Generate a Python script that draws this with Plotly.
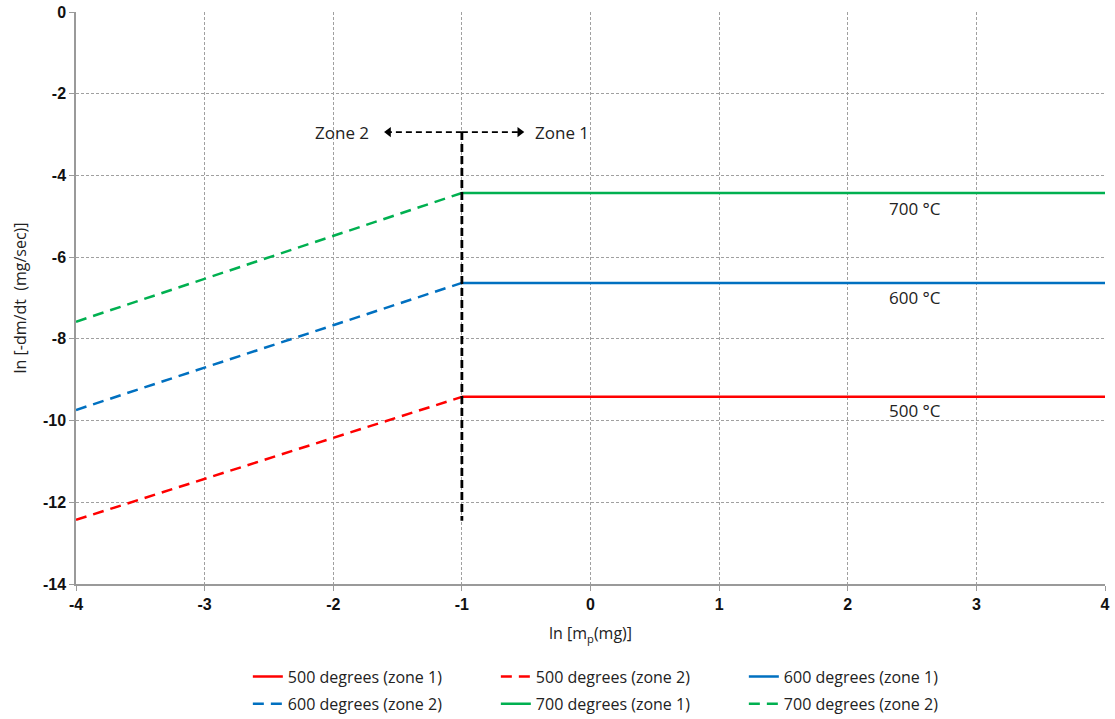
import plotly.graph_objects as go

temps = ["500", "600", "700"]
colors = ["#FF0000", "#0070C0", "#00B050"]
zone1_x = [-1, 4]
zone1_y = [[-9.42, -9.42], [-6.63, -6.63], [-4.43, -4.43]]
zone2_x = [-4, -1]
zone2_y = [[-12.43, -9.42], [-9.74, -6.63], [-7.58, -4.43]]
label_y = [-9.75, -6.98, -4.82]
label_x = 2.52
boundary_x = [-1, -1]
boundary_y = [-2.94, -12.45]
arrow_y = -2.94
arrow_left_x = [-1, -1.57]
arrow_right_x = [-1, -0.55]
x_ticks = [-4, -3, -2, -1, 0, 1, 2, 3, 4]
y_ticks = [0, -2, -4, -6, -8, -10, -12, -14]

fig = go.Figure()
k = 0
for i, t in enumerate(temps):
    for zone in (1, 2):
        lg = "legend" if k < 3 else "legend2"
        if zone == 1:
            fig.add_trace(go.Scatter(x=zone1_x, y=zone1_y[i], mode="lines",
                                     line=dict(color=colors[i], width=2.5),
                                     name=f"{t} degrees (zone 1)", legend=lg))
        else:
            fig.add_trace(go.Scatter(x=zone2_x, y=zone2_y[i], mode="lines",
                                     line=dict(color=colors[i], width=2.5, dash="11px,7px"),
                                     name=f"{t} degrees (zone 2)", legend=lg))
        k += 1

# zone boundary and arrows
fig.add_trace(go.Scatter(x=boundary_x, y=boundary_y, mode="lines",
                         line=dict(color="black", width=2.8, dash="8px,4px"), showlegend=False))
fig.add_trace(go.Scatter(x=arrow_left_x, y=[arrow_y, arrow_y], mode="lines",
                         line=dict(color="black", width=1.8, dash="6px,4px"), showlegend=False))
fig.add_trace(go.Scatter(x=arrow_right_x, y=[arrow_y, arrow_y], mode="lines",
                         line=dict(color="black", width=1.8, dash="6px,4px"), showlegend=False))
fig.add_trace(go.Scatter(x=[arrow_left_x[1], arrow_right_x[1]], y=[arrow_y, arrow_y], mode="markers",
                         marker=dict(symbol=["triangle-left", "triangle-right"], size=9, color="black"),
                         showlegend=False))

tfont = dict(size=17, color="#222", family="Open Sans")
fig.add_annotation(x=-1.93, y=arrow_y, text="Zone 2", showarrow=False, font=tfont)
fig.add_annotation(x=-0.22, y=arrow_y, text="Zone 1", showarrow=False, font=tfont)
for i, t in enumerate(temps):
    fig.add_annotation(x=label_x, y=label_y[i], text=f"{t} °C", showarrow=False, font=tfont)

font_axis = dict(family="Liberation Sans Narrow, Arial Narrow, Arial", size=16, color="#111", weight="bold")
grid = dict(showgrid=True, gridcolor="#a0a0a0", griddash="3px,2px", gridwidth=1,
            showline=True, linecolor="#9a9a9a", linewidth=1.5,
            ticks="outside", tickcolor="#9a9a9a", ticklen=5, zeroline=False, tickfont=font_axis)
leg_common = dict(orientation="h", x=0.167, xanchor="left", yanchor="top",
                  entrywidth=203, font=dict(size=16, family="Open Sans"), tracegroupgap=0)
fig.update_layout(
    width=1115, height=719,
    margin=dict(l=76, r=10, t=12, b=135, autoexpand=False),
    plot_bgcolor="white", paper_bgcolor="white",
    font=dict(family="Open Sans", size=14, color="#222"),
    xaxis=dict(range=[-4, 4], tickvals=x_ticks, ticktext=[str(v) for v in x_ticks],
               title=dict(text="ln [m<sub>p</sub>(mg)]", font=dict(size=16, family="Open Sans"), standoff=16),
               **grid),
    yaxis=dict(range=[-14, 0], tickvals=y_ticks, ticktext=[str(v) for v in y_ticks],
               title=dict(text="ln [-dm/dt  (mg/sec)]", font=dict(size=16, family="Open Sans"), standoff=12),
               **grid),
    legend=dict(y=-0.132, **leg_common),
    legend2=dict(y=-0.18, **leg_common),
)
fig.write_html("out.html")
